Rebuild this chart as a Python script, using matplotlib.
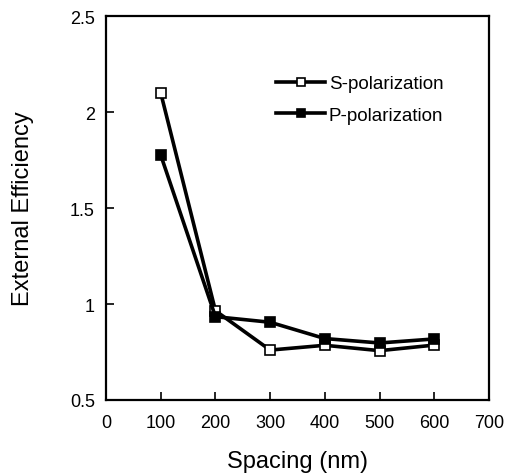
import matplotlib
matplotlib.use("Agg")
import matplotlib.pyplot as plt

spacing = [100, 200, 300, 400, 500, 600]
s_pol = [2.10, 0.965, 0.76, 0.785, 0.757, 0.786]
p_pol = [1.776, 0.934, 0.905, 0.82, 0.797, 0.818]
x_ticks = [0, 100, 200, 300, 400, 500, 600, 700]
y_ticks = [0.5, 1.0, 1.5, 2.0, 2.5]
y_tick_labels = ["0.5", "1", "1.5", "2", "2.5"]

plt.rcParams['font.family'] = ['Liberation Sans', 'DejaVu Sans']

fig = plt.figure(figsize=(5.05, 4.77), dpi=100)
ax = fig.add_axes([106/505, 1-401/477, (489-106)/505, (401-17)/477])

ax.plot(spacing, s_pol, color='black', lw=2.6, marker='s', ms=7,
        mfc='white', mec='black', mew=1.2, label='S-polarization')
ax.plot(spacing, p_pol, color='black', lw=2.6, marker='s', ms=7,
        mfc='black', mec='black', mew=1.2, label='P-polarization')

ax.set_xlim(0, 700)
ax.set_ylim(0.5, 2.5)
ax.set_xticks(x_ticks)
ax.set_yticks(y_ticks)
ax.set_yticklabels(y_tick_labels)
ax.tick_params(direction='in', length=6, width=1.2, labelsize=13, pad=8)
ax.tick_params(axis='x', pad=10)
for s in ax.spines.values():
    s.set_linewidth(1.6)

ax.set_xlabel('Spacing (nm)', fontsize=17, labelpad=14)
ax.set_ylabel('External Efficiency', fontsize=17, labelpad=26)

leg = ax.legend(loc='upper left', bbox_to_anchor=(0.425, 0.865), frameon=False,
                fontsize=13.5, handlelength=2.6, handletextpad=0.2,
                labelspacing=0.75, borderaxespad=0, markerscale=0.8)

fig.savefig('out.png', dpi=100)
